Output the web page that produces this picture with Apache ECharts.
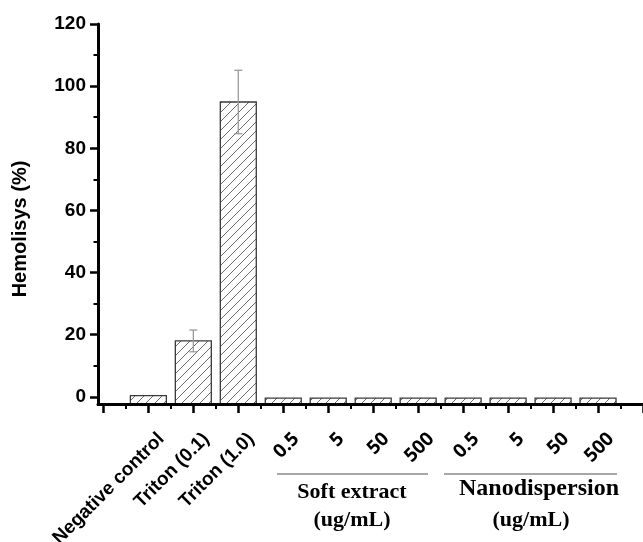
<!DOCTYPE html>
<html>
<head>
<meta charset="utf-8">
<script src="https://cdn.jsdelivr.net/npm/echarts@6/dist/echarts.min.js"></script>
<style>
html,body{margin:0;padding:0;background:#fff;}
#chart{width:643px;height:542px;}
</style>
</head>
<body>
<div id="chart"></div>
<script>
// ---- data ----
var categories = ['Negative control', 'Triton (0.1)', 'Triton (1.0)', '0.5', '5', '50', '500', '0.5', '5', '50', '500'];
var hemolysis = [0.4, 18.0, 94.9, -0.4, -0.4, -0.4, -0.4, -0.4, -0.4, -0.4, -0.4];
var errors = [0, 3.5, 10.2, 0, 0, 0, 0, 0, 0, 0, 0];
var yTicks = [0, 20, 40, 60, 80, 100, 120];
var yMinorTicks = [10, 30, 50, 70, 90, 110];
var groupNames = ['Soft extract', 'Nanodispersion'];
var groupUnit = '(ug/mL)';
var yTitle = 'Hemolisys (%)';

// ---- layout constants ----
var Y_MIN = -2.3, Y_MAX = 120;
var X_MIN = -0.12, X_MAX = 12;
var BAR_HALF = 0.4;
var LABEL_SHIFT = 0.13;

var xMajor = [], xMinor = [], labelPos = [];
for (var i = 0; i <= 12; i++) xMajor.push(i);
for (var j = 0; j < 12; j++) xMinor.push(j + 0.5);
for (var k = 0; k < categories.length; k++) labelPos.push(k + 1 + LABEL_SHIFT);

var barData = categories.map(function (c, idx) { return [idx + 1, hemolysis[idx]]; });
var errData = [];
categories.forEach(function (c, idx) { if (errors[idx] > 0) errData.push([idx + 1, hemolysis[idx], errors[idx]]); });

// hatch pattern
var hatch = document.createElement('canvas');
var S = 9;
hatch.width = S; hatch.height = S;
var hc = hatch.getContext('2d');
hc.fillStyle = '#fff'; hc.fillRect(0, 0, S, S);
hc.strokeStyle = '#5a5a5a'; hc.lineWidth = 0.9;
hc.beginPath();
hc.moveTo(-1, S + 1); hc.lineTo(S + 1, -1);
hc.moveTo(-1, 1); hc.lineTo(1, -1);
hc.moveTo(S - 1, S + 1); hc.lineTo(S + 1, S - 1);
hc.stroke();

var chart = echarts.init(document.getElementById('chart'), null, {renderer: 'canvas'});
var sansBold = {fontFamily: '"Liberation Sans", Arial, sans-serif', fontWeight: 'bold', color: '#000'};

var option = {
  animation: false,
  backgroundColor: '#fff',
  grid: {left: 98, right: 0, top: 24, bottom: 138, containLabel: false, outerBoundsMode: 'none'},
  xAxis: [{
    type: 'value', min: X_MIN, max: X_MAX, z: 5,
    splitLine: {show: false},
    axisLine: {show: true, onZero: false, lineStyle: {color: '#000', width: 3}},
    axisTick: {show: true, customValues: xMajor, length: 9, lineStyle: {color: '#000', width: 2.5}},
    axisLabel: {
      show: true, customValues: labelPos, rotate: 45, margin: 25,
      align: 'right', verticalAlign: 'top',
      formatter: function (v) {
        var idx = Math.round(v - LABEL_SHIFT) - 1;
        var t = categories[idx];
        return idx < 3 ? '{c|' + t + '}' : '{n|' + t + '}';
      },
      rich: {
        c: {fontFamily: '"Liberation Sans", Arial, sans-serif', fontWeight: 'bold', fontSize: 19, color: '#000', lineHeight: 20},
        n: {fontFamily: '"Open Sans", "Noto Sans", sans-serif', fontWeight: 'bold', fontSize: 19, color: '#000', lineHeight: 20}
      }
    }
  }, {
    type: 'value', min: X_MIN, max: X_MAX, position: 'bottom', offset: 0, z: 5,
    splitLine: {show: false},
    axisLine: {show: false, onZero: false},
    axisTick: {show: true, customValues: xMinor, length: 5, lineStyle: {color: '#000', width: 2}},
    axisLabel: {show: false}
  }],
  yAxis: [{
    type: 'value', min: Y_MIN, max: Y_MAX, position: 'left', z: 5,
    name: yTitle, nameLocation: 'middle', nameRotate: 90, nameGap: 68,
    nameTextStyle: {fontFamily: '"Liberation Sans", Arial, sans-serif', fontWeight: 'bold', fontSize: 20, color: '#000', padding: [0, 30, 0, 0]},
    splitLine: {show: false},
    axisLine: {show: true, onZero: false, lineStyle: {color: '#000', width: 3}},
    axisTick: {show: true, customValues: yTicks, length: 8, lineStyle: {color: '#000', width: 2.5}},
    axisLabel: Object.assign({show: true, customValues: yTicks, fontSize: 19, margin: 12}, sansBold)
  }, {
    type: 'value', min: Y_MIN, max: Y_MAX, position: 'left', offset: 0, z: 5,
    splitLine: {show: false},
    axisLine: {show: false, onZero: false},
    axisTick: {show: true, customValues: yMinorTicks, length: 4.5, lineStyle: {color: '#000', width: 2}},
    axisLabel: {show: false}
  }],
  series: [{
    type: 'custom', name: 'bars', xAxisIndex: 0, yAxisIndex: 0, z: 2,
    data: barData, encode: {x: 0, y: 1},
    renderItem: function (params, api) {
      var pos = api.value(0), v = api.value(1);
      var p1 = api.coord([pos - BAR_HALF, v]);
      var p2 = api.coord([pos + BAR_HALF, Y_MIN]);
      return {
        type: 'rect',
        shape: {x: p1[0], y: p1[1], width: p2[0] - p1[0], height: p2[1] - p1[1]},
        style: {fill: {image: hatch, repeat: 'repeat'}, stroke: '#3a3a3a', lineWidth: 1.3}
      };
    }
  }, {
    type: 'custom', name: 'errors', xAxisIndex: 0, yAxisIndex: 0, z: 3,
    data: errData, encode: {x: 0, y: 1},
    renderItem: function (params, api) {
      var pos = api.value(0), v = api.value(1), e = api.value(2);
      var top = api.coord([pos, v + e]);
      var bot = api.coord([pos, v - e]);
      var st = {stroke: '#9a9a9a', lineWidth: 1.3};
      return {
        type: 'group',
        children: [
          {type: 'line', shape: {x1: top[0], y1: top[1], x2: bot[0], y2: bot[1]}, style: st},
          {type: 'line', shape: {x1: top[0] - 4, y1: top[1], x2: top[0] + 4, y2: top[1]}, style: st},
          {type: 'line', shape: {x1: bot[0] - 4, y1: bot[1], x2: bot[0] + 4, y2: bot[1]}, style: st}
        ]
      };
    }
  }],
  graphic: [
    {type: 'line', shape: {x1: 277, y1: 474, x2: 428, y2: 474}, style: {stroke: '#8a8a8a', lineWidth: 1.5}},
    {type: 'line', shape: {x1: 444, y1: 474, x2: 617, y2: 474}, style: {stroke: '#8a8a8a', lineWidth: 1.5}},
    {type: 'text', x: 352, y: 492, style: {text: groupNames[0], font: 'bold 22px "Liberation Serif", serif', fill: '#000', align: 'center', verticalAlign: 'middle'}},
    {type: 'text', x: 352, y: 520, style: {text: groupUnit, font: 'bold 22px "Liberation Serif", serif', fill: '#000', align: 'center', verticalAlign: 'middle'}},
    {type: 'text', x: 539, y: 489, style: {text: groupNames[1], font: 'bold 24px "Liberation Serif", serif', fill: '#000', align: 'center', verticalAlign: 'middle'}},
    {type: 'text', x: 531, y: 520, style: {text: groupUnit, font: 'bold 22px "Liberation Serif", serif', fill: '#000', align: 'center', verticalAlign: 'middle'}}
  ]
};
chart.setOption(option);
</script>
</body>
</html>
